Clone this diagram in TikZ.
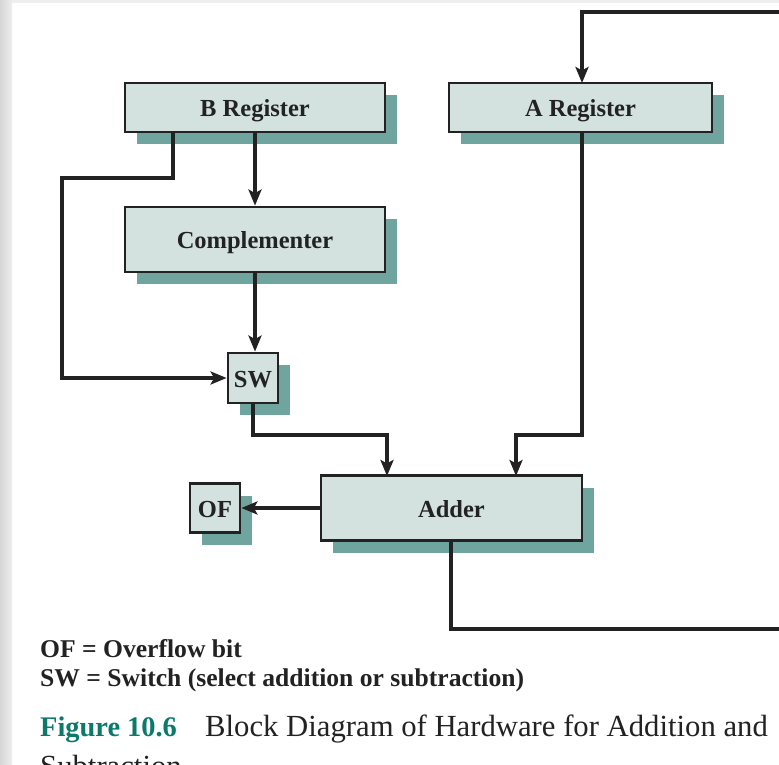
\documentclass[tikz,border=0pt]{standalone}
\usepackage{fontspec}
\setmainfont{Liberation Serif}
\usetikzlibrary{shadows,arrows.meta}

\definecolor{boxfill}{RGB}{211,226,223}
\definecolor{boxshadow}{RGB}{111,165,158}
\definecolor{inkdark}{RGB}{34,34,34}
\definecolor{capteal}{RGB}{11,122,107}
\definecolor{pagegray}{RGB}{238,238,238}

\tikzset{
  unit/.style={draw=inkdark, line width=2.8pt, fill=boxfill, inner sep=0pt,
    text=inkdark, font=\fontsize{24.5}{28}\selectfont\bfseries,
    text height=18pt, text depth=0pt,
    drop shadow={shadow xshift=12pt, shadow yshift=-12pt, fill=boxshadow, opacity=1}},
  wire/.style={draw=inkdark, line width=3.2pt},
  flow/.style={wire, -{Stealth[length=16pt, width=13pt, inset=3.5pt]}},
  legend/.style={anchor=base west, inner sep=0pt, text=inkdark,
    font=\fontsize{25.6}{30}\selectfont\bfseries},
}

\begin{document}
\begin{tikzpicture}[x=1pt, y=-1pt]
  % page and its light margins
  \fill[white] (0,0) rectangle (779,765);
  \useasboundingbox (0,0) rectangle (779,765);
  \shade[left color=pagegray!90!black, right color=pagegray] (0,0) rectangle (12,765);
  \fill[pagegray] (12,0) rectangle (779,3);

  % functional units
  \node[unit, minimum width=260pt, minimum height=49pt] (breg)  at (255,107.5) {B Register};
  \node[unit, minimum width=263pt, minimum height=49pt] (areg)  at (580.5,107.5) {A Register};
  \node[unit, minimum width=260pt, minimum height=65pt] (comp)  at (255,239.5) {Complementer};
  \node[unit, minimum width=50pt,  minimum height=50pt] (sw)    at (253,378) {SW};
  \node[unit, minimum width=50pt,  minimum height=49pt] (of)    at (215,508) {OF};
  \node[unit, minimum width=261pt, minimum height=65pt] (adder) at (451.5,508) {Adder};

  % routing points
  \coordinate (bTap)  at (173,132);
  \coordinate (aTap)  at (582,132);
  \coordinate (swIn)  at (387,476);
  \coordinate (aIn)   at (516,476);
  \coordinate (sumOut) at (451,541);
  \coordinate (loopEnd) at (782,629);
  \coordinate (loopStart) at (782,12);
  \coordinate (aTop)  at (582,83);

  % B path straight through the complementer to the switch
  \draw[flow] (breg.south) -- (comp.north);
  \draw[flow] (comp.south) -- (comp.south |- sw.north);
  % uncomplemented B bypass into the switch
  \draw[flow] (bTap) -- (173,178) -- (62,178) -- (62,378) -- (sw.west);
  % operands into the adder
  \draw[flow] (sw.south) -- (253,435) -- (387,435) -- (swIn);
  \draw[flow] (aTap) -- (582,435) -- (516,435) -- (aIn);
  % overflow bit
  \draw[flow] (adder.west) -- (of.east);
  % result fed back into the A register
  \draw[wire] (sumOut) -- (451,629) -- (loopEnd);
  \draw[flow] (loopStart) -- (582,12) -- (aTop);

  % key
  \node[legend] (keyof) at (40,657) {OF = Overflow bit};
  \node[legend] (keysw) at (40,686) {SW = Switch (select addition or subtraction)};

  % caption
  \node[anchor=base west, inner sep=0pt, text=capteal,
        font=\fontsize{28.4}{34}\selectfont\bfseries] (capnum) at (40,736) {Figure 10.6};
  \node[anchor=base west, inner sep=0pt, text=inkdark,
        font=\fontsize{30.7}{36}\selectfont] (captxt) at (205,736) {Block Diagram of Hardware for Addition and};
  \node[anchor=base west, inner sep=0pt, text=inkdark,
        font=\fontsize{30.7}{36}\selectfont] (captxt2) at (40,776) {Subtraction};
\end{tikzpicture}
\end{document}
